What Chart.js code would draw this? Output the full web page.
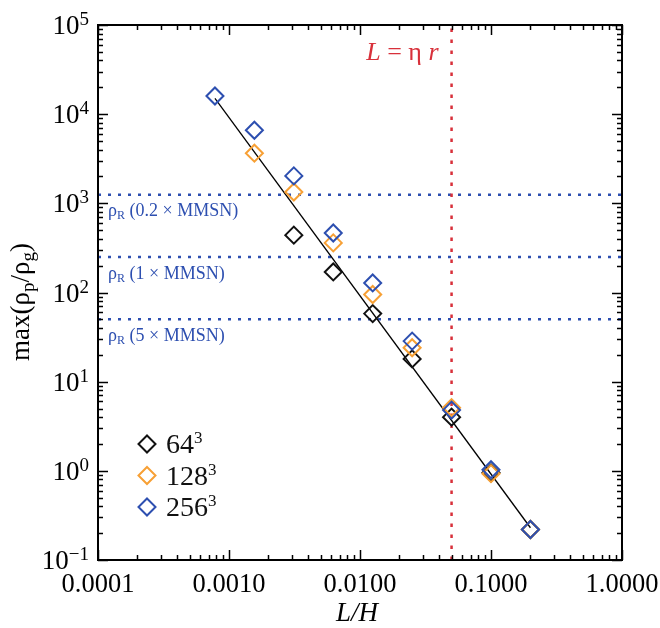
<!DOCTYPE html>
<html>
<head>
<meta charset="utf-8">
<script src="https://cdn.jsdelivr.net/npm/chart.js@4.4.1/dist/chart.umd.min.js"></script>
<style>
  body { margin: 0; background: #fff; }
  #wrap { width: 660px; height: 628px; position: relative; }
</style>
</head>
<body>
<div id="wrap"><canvas id="chart"></canvas></div>
<script>
// box sizes L/H of the runs
var boxSizes = [0.00078125, 0.0015625, 0.003125, 0.00625, 0.0125, 0.025, 0.05, 0.1, 0.2];
// max(rho_p/rho_g) per resolution (null = no run)
var res64  = [null, null, 440, 170, 58, 18, 4.0, 0.95, 0.22];
var res128 = [null, 3650, 1340, 360, 95, 24, 5.1, 0.93, 0.22];
var res256 = [16000, 6600, 2030, 465, 128, 28.5, 4.8, 1.03, 0.22];

var fitX = [0.00078125, 0.2];
var fitY = [15000, 0.23];

var rocheValues = [1250, 250, 50];
var rocheLabels = ['0.2', '1', '5'];
var etaR = 0.05;

var xTickValues = [0.0001, 0.001, 0.01, 0.1, 1];
var xTickLabels = ['0.0001', '0.0010', '0.0100', '0.1000', '1.0000'];
var yTickValues = [0.1, 1, 10, 100, 1000, 10000, 100000];
var yTickExps = ['\u22121', '0', '1', '2', '3', '4', '5'];

var seriesNames = ['64', '128', '256'];
var BLACK = '#111111', ORANGE = '#f7a035', BLUE = '#2d4fb0', RED = '#d8303a';
var SERIF = '"Liberation Serif", "DejaVu Serif", serif';

function pts(ys) {
  var out = [];
  boxSizes.forEach(function(x, i) { if (ys[i] != null) out.push({x: x, y: ys[i]}); });
  return out;
}
function diamonds(label, ys, color) {
  return {
    label: label, data: pts(ys), showLine: false,
    pointStyle: 'rectRot', pointRadius: 8.5, pointHoverRadius: 8.5,
    pointBorderWidth: 2, pointBorderColor: color, pointBackgroundColor: 'rgba(0,0,0,0)'
  };
}
function refLine(pts, color, dash) {
  return {
    data: pts, showLine: true, pointRadius: 0, borderColor: color,
    borderWidth: 2.5, borderDash: dash, fill: false
  };
}

var datasets = [
  diamonds('256', res256, BLUE),
  diamonds('128', res128, ORANGE),
  diamonds('64', res64, BLACK),
  {
    data: fitX.map(function(x, i) { return {x: x, y: fitY[i]}; }),
    showLine: true, pointRadius: 0, borderColor: '#000', borderWidth: 1.3
  },
  refLine([{x: etaR, y: 0.1}, {x: etaR, y: 1e5}], RED, [3.5, 7.5])
];
rocheValues.forEach(function(v) {
  datasets.push(refLine([{x: 1e-4, y: v}, {x: 1, y: v}], BLUE, [3, 7]));
});

// draws parts [text, font, dy] one after another starting at x
function drawRun(ctx, parts, x, y, align) {
  var w = 0;
  parts.forEach(function(p) { ctx.font = p[1]; w += ctx.measureText(p[0]).width; });
  var cx = align === 'right' ? x - w : (align === 'center' ? x - w / 2 : x);
  ctx.textAlign = 'left';
  ctx.textBaseline = 'alphabetic';
  parts.forEach(function(p) {
    ctx.font = p[1];
    ctx.fillText(p[0], cx, y + (p[2] || 0));
    cx += ctx.measureText(p[0]).width;
  });
}

function isWhole(v) {
  var m = v / Math.pow(10, Math.floor(Math.log10(v) + 1e-9));
  return Math.abs(m - Math.round(m)) < 1e-6;
}

var decor = {
  id: 'decor',
  afterDraw: function(chart) {
    var ctx = chart.ctx, ca = chart.chartArea;
    var xs = chart.scales.x, ys = chart.scales.y;
    ctx.save();
    ctx.strokeStyle = '#000';
    ctx.fillStyle = '#000';

    // ticks on all four sides, pointing in
    ctx.lineWidth = 1.5;
    ctx.beginPath();
    xs.ticks.forEach(function(t) {
      if (!isWhole(t.value)) return;
      var px = Math.round(xs.getPixelForValue(t.value)) + 0.5;
      var len = Math.abs(Math.log10(t.value) - Math.round(Math.log10(t.value))) < 1e-6 ? 10 : 5;
      ctx.moveTo(px, ca.bottom); ctx.lineTo(px, ca.bottom - len);
      ctx.moveTo(px, ca.top); ctx.lineTo(px, ca.top + len);
    });
    ys.ticks.forEach(function(t) {
      if (!isWhole(t.value)) return;
      var py = Math.round(ys.getPixelForValue(t.value)) + 0.5;
      var len = Math.abs(Math.log10(t.value) - Math.round(Math.log10(t.value))) < 1e-6 ? 10 : 5;
      ctx.moveTo(ca.left, py); ctx.lineTo(ca.left + len, py);
      ctx.moveTo(ca.right, py); ctx.lineTo(ca.right - len, py);
    });
    ctx.stroke();

    // frame
    ctx.lineWidth = 2;
    ctx.strokeRect(ca.left, ca.top, ca.right - ca.left, ca.bottom - ca.top);

    // tick labels
    xTickValues.forEach(function(v, i) {
      var px = xs.getPixelForValue(v);
      drawRun(ctx, [[xTickLabels[i], '26.5px ' + SERIF]], px, ca.bottom + 32, 'center');
    });
    yTickValues.forEach(function(v, i) {
      var py = ys.getPixelForValue(v);
      drawRun(ctx, [['10', '27px ' + SERIF, 9], [yTickExps[i], '19px ' + SERIF, 0]], ca.left - 9, py, 'right');
    });

    // axis titles
    drawRun(ctx, [['L/H', 'italic 27px ' + SERIF]], (ca.left + ca.right) / 2 - 3, ca.bottom + 61, 'center');
    ctx.save();
    ctx.translate(29, 302);
    ctx.rotate(-Math.PI / 2);
    drawRun(ctx, [
      ['max(\u03c1', '27px ' + SERIF], ['p', '19px ' + SERIF, 5],
      ['/\u03c1', '27px ' + SERIF], ['g', '19px ' + SERIF, 5], [')', '27px ' + SERIF]
    ], 0, 0, 'center');
    ctx.restore();

    // Roche density labels
    ctx.fillStyle = BLUE;
    rocheValues.forEach(function(v, i) {
      var py = ys.getPixelForValue(v);
      drawRun(ctx, [
        ['\u03c1', '18px ' + SERIF], ['R', '12px ' + SERIF, 3],
        [' (' + rocheLabels[i] + ' \u00d7 MMSN)', '18px ' + SERIF]
      ], ca.left + 10, py + 21.5, 'left');
    });

    // L = eta r
    ctx.fillStyle = RED;
    drawRun(ctx, [
      ['L', 'italic 26px ' + SERIF], [' = ', '26px ' + SERIF],
      ['\u03b7 ', '26px ' + SERIF], ['r', 'italic 26px ' + SERIF]
    ], xs.getPixelForValue(etaR) - 13, ca.top + 35, 'right');

    // legend
    var legend = [[BLACK, seriesNames[0]], [ORANGE, seriesNames[1]], [BLUE, seriesNames[2]]];
    legend.forEach(function(l, i) {
      var cy = 444 + i * 31.5, cx = 147;
      ctx.strokeStyle = l[0];
      ctx.lineWidth = 2;
      ctx.beginPath();
      ctx.moveTo(cx, cy - 8.5); ctx.lineTo(cx + 8.5, cy); ctx.lineTo(cx, cy + 8.5); ctx.lineTo(cx - 8.5, cy);
      ctx.closePath();
      ctx.stroke();
      ctx.fillStyle = '#111';
      drawRun(ctx, [[l[1], '28px ' + SERIF, 0], ['3', '17px ' + SERIF, -10]], 166, cy + 9, 'left');
    });
    ctx.restore();
  }
};

var hidden = {
  ticks: {display: false},
  grid: {display: false, drawTicks: false},
  border: {display: false},
  title: {display: false}
};

new Chart(document.getElementById('chart').getContext('2d'), {
  type: 'scatter',
  data: {datasets: datasets},
  options: {
    responsive: true,
    maintainAspectRatio: false,
    devicePixelRatio: 1,
    animation: false,
    layout: {padding: {left: 98, right: 38, top: 25, bottom: 68}},
    plugins: {legend: {display: false}, tooltip: {enabled: false}},
    scales: {
      x: Object.assign({type: 'logarithmic', min: 0.0001, max: 1}, hidden),
      y: Object.assign({type: 'logarithmic', min: 0.1, max: 100000}, hidden)
    }
  },
  plugins: [decor]
});
</script>
</body>
</html>
